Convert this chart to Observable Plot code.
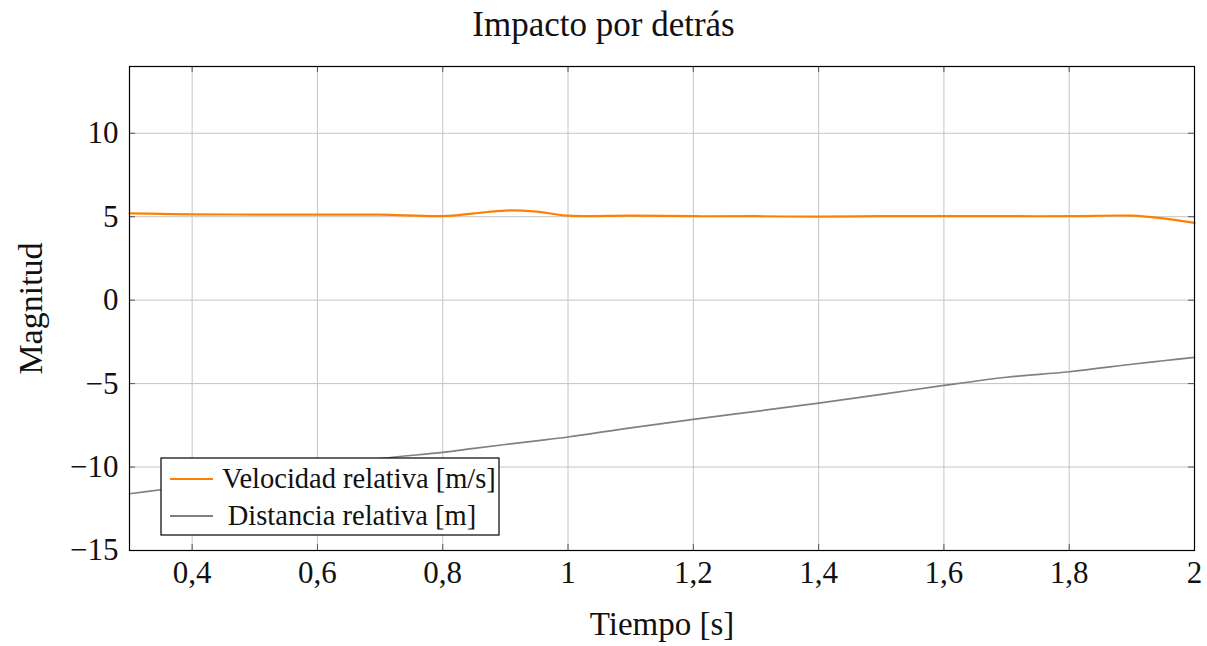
<!DOCTYPE html>
<html>
<head>
<meta charset="utf-8">
<script src="https://cdn.jsdelivr.net/npm/d3@7"></script>
<script src="https://cdn.jsdelivr.net/npm/@observablehq/plot@0.6"></script>
<style>
  body { margin: 0; background: #fff; }
  #title { height: 50px; line-height: 50px; text-align: center; font-family: "Liberation Serif", serif; font-size: 35px; color: #111; }
</style>
</head>
<body>
<div id="title">Impacto por detrás</div>
<div id="chart"></div>
<script>
const tiempo = [0.3, 0.35, 0.4, 0.5, 0.6, 0.7, 0.8, 0.85, 0.9, 0.95, 1.0, 1.1, 1.2, 1.3, 1.4, 1.5, 1.6, 1.7, 1.8, 1.9, 1.95, 2.0];
const velocidad = [5.2, 5.17, 5.14, 5.13, 5.13, 5.12, 5.04, 5.2, 5.37, 5.3, 5.06, 5.06, 5.03, 5.03, 5.0, 5.03, 5.03, 5.03, 5.03, 5.06, 4.9, 4.63];
const distancia = [-11.6, -11.36, -11.1, -10.55, -10.02, -9.5, -9.12, -8.88, -8.65, -8.43, -8.2, -7.65, -7.14, -6.66, -6.17, -5.65, -5.11, -4.62, -4.29, -3.84, -3.63, -3.43];
const seriesNames = ["Velocidad relativa [m/s]", "Distancia relativa [m]"];
const seriesColors = ["#ff8000", "#808080"];
const xTicks = [0.4, 0.6, 0.8, 1.0, 1.2, 1.4, 1.6, 1.8, 2.0];
const yTicks = [-15, -10, -5, 0, 5, 10];

const velData = tiempo.map((t, i) => ({t, v: velocidad[i]}));
const disData = tiempo.map((t, i) => ({t, v: distancia[i]}));

const fmtX = d => String(+d.toFixed(1)).replace(".", ",");
const fmtY = d => d < 0 ? "\u2212" + Math.abs(d) : String(d);

const W = 1207, H = 596, mt = 16, mb = 96, ml = 129, mr = 13;
const ph = H - mt - mb, pw = W - ml - mr;

const chart = Plot.plot({
  width: W, height: H,
  marginTop: mt, marginBottom: mb, marginLeft: ml, marginRight: mr,
  style: {fontFamily: "Liberation Serif, serif", fontSize: "31px", color: "#111", background: "#fff"},
  x: {domain: [0.3, 2], label: null},
  y: {domain: [-15, 14], label: null},
  marks: [
    Plot.gridX(xTicks, {stroke: "#c4c4c4", strokeOpacity: 1}),
    Plot.gridY(yTicks, {stroke: "#c4c4c4", strokeOpacity: 1}),
    Plot.ruleX(xTicks, {stroke: "#555", insetTop: ph - 6}),
    Plot.ruleX(xTicks, {stroke: "#555", insetBottom: ph - 6}),
    Plot.ruleY(yTicks, {stroke: "#555", insetRight: pw - 6}),
    Plot.ruleY(yTicks, {stroke: "#555", insetLeft: pw - 6}),
    Plot.line(disData, {x: "t", y: "v", stroke: seriesColors[1], strokeWidth: 1.7, curve: "catmull-rom"}),
    Plot.line(velData, {x: "t", y: "v", stroke: seriesColors[0], strokeWidth: 2.2, curve: "catmull-rom"}),
    Plot.axisX(xTicks, {tickSize: 0, tickPadding: 10, tickFormat: fmtX, fontSize: 31, label: null}),
    Plot.axisX({ticks: [], tickSize: 0, fontSize: 33, label: "Tiempo [s]", labelAnchor: "center", labelOffset: 84, labelArrow: "none"}),
    Plot.axisY(yTicks, {tickSize: 0, tickPadding: 11, tickFormat: fmtY, fontSize: 31, label: null}),
    Plot.axisY({ticks: [], tickSize: 0, fontSize: 34, label: "Magnitud", labelAnchor: "center", labelOffset: 112, labelArrow: "none"}),
    Plot.frame({stroke: "#000", strokeWidth: 1.2})
  ]
});

document.getElementById("chart").appendChild(chart);

// legend
const svg = d3.select(chart);
const lg = svg.append("g").attr("transform", "translate(161,408)");
lg.append("rect").attr("width", 338).attr("height", 77).attr("fill", "#fff").attr("stroke", "#000").attr("stroke-width", 1.2);
const rows = [{y: 21, anchor: "start", tx: 61}, {y: 58, anchor: "middle", tx: 191}];
seriesNames.forEach((name, i) => {
  lg.append("line").attr("x1", 9).attr("x2", 52).attr("y1", rows[i].y).attr("y2", rows[i].y)
    .attr("stroke", seriesColors[i]).attr("stroke-width", 2);
  lg.append("text").attr("x", rows[i].tx).attr("y", rows[i].y).attr("dy", "0.32em")
    .attr("text-anchor", rows[i].anchor)
    .attr("font-family", "Liberation Serif, serif").attr("font-size", 28.5).attr("fill", "#111")
    .text(name);
});
</script>
</body>
</html>
